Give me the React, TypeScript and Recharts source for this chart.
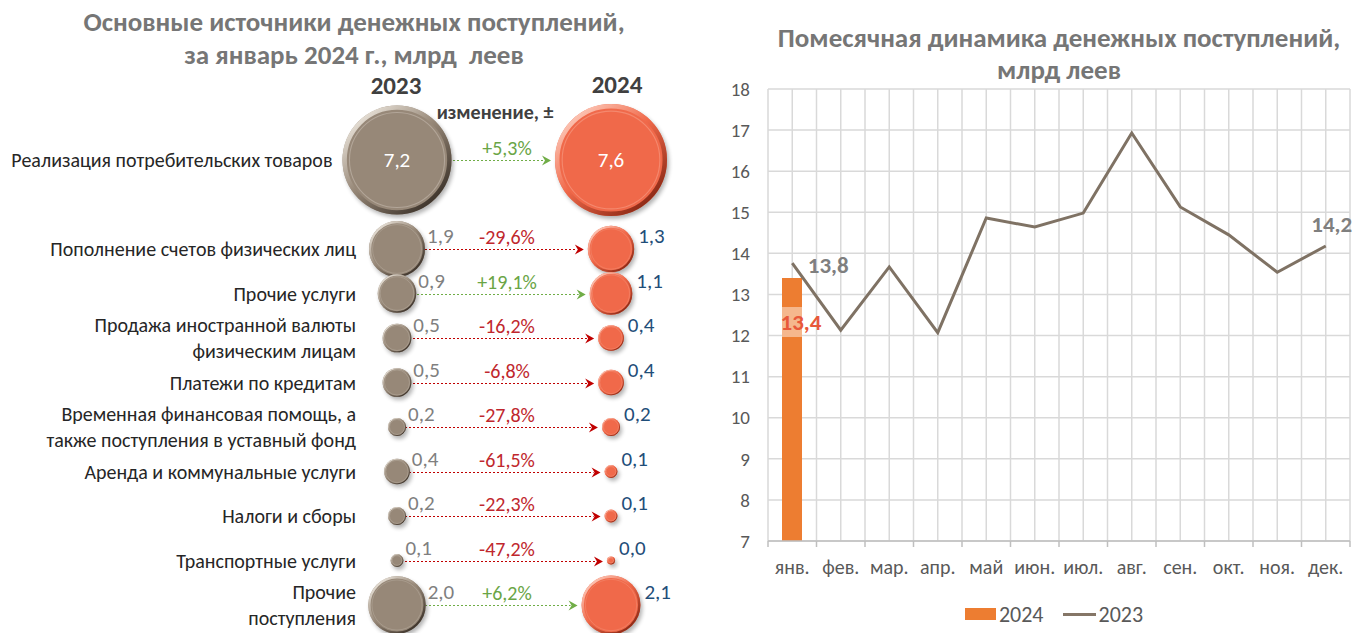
import {
  ScatterChart,
  Scatter,
  XAxis,
  YAxis,
  ZAxis,
  ComposedChart,
  Bar,
  Line,
  CartesianGrid,
  Legend,
  LabelList,
} from 'recharts'

const FONT = 'Carlito, Lato, "Open Sans", sans-serif'

// --- left panel: sources of cash inflow, January ---
const sources = [
  ['Реализация потребительских товаров'],
  ['Пополнение счетов физических лиц'],
  ['Прочие услуги'],
  ['Продажа иностранной валюты', 'физическим лицам'],
  ['Платежи по кредитам'],
  ['Временная финансовая помощь, а', 'также поступления в уставный фонд'],
  ['Аренда и коммунальные услуги'],
  ['Налоги и сборы'],
  ['Транспортные услуги'],
  ['Прочие', 'поступления'],
]
const jan2023 = [7.2, 1.9, 0.9, 0.5, 0.5, 0.2, 0.4, 0.2, 0.1, 2.0]
const jan2024 = [7.6, 1.3, 1.1, 0.4, 0.4, 0.2, 0.1, 0.1, 0.04, 2.1]
const changes = [5.3, -29.6, 19.1, -16.2, -6.8, -27.8, -61.5, -22.3, -47.2, 6.2]

// --- right panel: monthly dynamics ---
const months = ['янв.', 'фев.', 'мар.', 'апр.', 'май', 'июн.', 'июл.', 'авг.', 'сен.', 'окт.', 'ноя.', 'дек.']
const monthly2023 = [13.76, 12.13, 13.67, 12.07, 14.86, 14.64, 14.98, 16.93, 15.13, 14.45, 13.54, 14.18]
const monthly2024 = [13.4, null, null, null, null, null, null, null, null, null, null, null]
const yTicks = [7, 8, 9, 10, 11, 12, 13, 14, 15, 16, 17, 18]

const fmt = (v: number) => v.toFixed(1).replace('.', ',')
const fmtPct = (v: number) => (v > 0 ? '+' : '') + fmt(v) + '%'

// left chart geometry
const LEFT_W = 700
const CHART_H = 633
const PLOT_L = 397
const PLOT_R = 611
const COL_GAP = PLOT_R - PLOT_L
const Z_MAX = 7.6
const R_MAX = 56
const AREA_MAX = Math.PI * R_MAX * R_MAX
const radiusOf = (v: number) => R_MAX * Math.sqrt(v / Z_MAX)

const rowPos = sources.map((_, i) => (i === 0 ? 0 : i + 1))

const rows = sources.map((label, i) => ({
  label,
  y: rowPos[i],
  v23: jan2023[i],
  v24: jan2024[i],
  change: changes[i],
}))
const points2023 = rows.map((r) => ({ ...r, x: 0, z: r.v23 }))
const points2024 = rows.map((r) => ({ ...r, x: 1, z: r.v24 }))

const palette: Record<string, { base: string; light: string; dark: string; text: string }> = {
  '2023': { base: '#978878', light: '#E4DDD3', dark: '#3F352C', text: '#7F7F7F' },
  '2024': { base: '#F0694A', light: '#FCC3B2', dark: '#8E2A16', text: '#1F4E79' },
}

function Bubble(props: any) {
  const { cx, cy, size, payload, year } = props
  if (cx == null || cy == null) return null
  const r = Math.sqrt(Math.max(size, 0) / Math.PI)
  const c = palette[year]
  const bevel = Math.max(1, r * 0.08)
  const big = r > 40
  const value = year === '2023' ? payload.v23 : payload.v24
  return (
    <g>
      <defs>
        <linearGradient id={`bevel${year}`} x1="0.15" y1="0.1" x2="0.85" y2="0.9">
          <stop offset="0%" stopColor={c.light} />
          <stop offset="45%" stopColor={c.base} />
          <stop offset="100%" stopColor={c.dark} />
        </linearGradient>
        <filter id="bubbleShadow" x="-30%" y="-30%" width="160%" height="160%">
          <feGaussianBlur stdDeviation="2" />
        </filter>
      </defs>
      <circle cx={cx + 2} cy={cy + 3} r={r} fill="#000" opacity={0.3} filter="url(#bubbleShadow)" />
      <circle cx={cx} cy={cy} r={r} fill={c.base} />
      <circle
        cx={cx}
        cy={cy}
        r={r - bevel / 2}
        fill="none"
        stroke={`url(#bevel${year})`}
        strokeWidth={bevel}
      />
      <circle cx={cx} cy={cy} r={r - bevel * 1.6} fill="none" stroke={c.light} strokeWidth={Math.max(0.6, r * 0.02)} opacity={0.35} />
      {big ? (
        <text x={cx} y={cy} textAnchor="middle" dominantBaseline="central" fill="#fff" fontSize={21}>
          {fmt(value)}
        </text>
      ) : (
        <text x={cx + r + (year === '2023' ? 2 : 4)} y={cy - 13} dominantBaseline="central" fill={c.text} fontSize={21}>
          {fmt(value)}
        </text>
      )}
    </g>
  )
}

function ChangeArrow(props: any) {
  const { cx, cy, payload } = props
  if (cx == null || cy == null) return null
  const up = payload.change > 0
  const color = up ? '#70AD47' : '#C00000'
  const textColor = up ? '#6AA546' : '#C0272D'
  const tip = cx + COL_GAP - radiusOf(payload.v24) - 4
  const ly = Math.round(cy) + 0.5
  return (
    <g>
      <line x1={cx} y1={ly} x2={tip - 7} y2={ly} stroke={color} strokeWidth={1.2} strokeDasharray="2 2" />
      <path d={`M${tip - 9},${ly - 5} L${tip},${ly} L${tip - 9},${ly + 5} L${tip - 6},${ly} Z`} fill={color} />
      <text
        x={cx + COL_GAP / 2 + 3}
        y={cy - 12}
        textAnchor="middle"
        dominantBaseline="central"
        fill={textColor}
        fontSize={20}
      >
        {fmtPct(payload.change)}
      </text>
    </g>
  )
}

function RowTick(props: any) {
  const { x, y, payload } = props
  const i = rowPos.indexOf(payload.value)
  if (i < 0) return null
  const lines = sources[i]
  const tx = Math.min(x - 41, x - radiusOf(jan2023[i]) - 10)
  const lh = 26
  return (
    <text x={tx} y={y} textAnchor="end" fill="#262626" fontSize={20}>
      {lines.map((t, k) => (
        <tspan key={k} x={tx} y={y + (k - (lines.length - 1) / 2) * lh} dy="0.35em">
          {t}
        </tspan>
      ))}
    </text>
  )
}

function SourcesChart() {
  return (
    <ScatterChart
      width={LEFT_W}
      height={CHART_H}
      margin={{ top: 160, right: LEFT_W - PLOT_R, bottom: CHART_H - 605, left: 0 }}
    >
      <XAxis type="number" dataKey="x" domain={[0, 1]} hide />
      <YAxis
        type="number"
        dataKey="y"
        domain={[0, 10]}
        reversed
        ticks={rowPos}
        interval={0}
        width={PLOT_L}
        axisLine={false}
        tickLine={false}
        tickSize={0}
        tickMargin={0}
        tick={<RowTick />}
      />
      <ZAxis type="number" dataKey="z" domain={[0, Z_MAX]} range={[0, AREA_MAX]} />
      <Scatter data={points2023} shape={<ChangeArrow />} isAnimationActive={false} />
      <Scatter data={points2023} shape={<Bubble year="2023" />} isAnimationActive={false} />
      <Scatter data={points2024} shape={<Bubble year="2024" />} isAnimationActive={false} />
    </ScatterChart>
  )
}

// right chart geometry
const RIGHT_W = 653
const Y_AXIS_W = 68
const RIGHT_MARGIN = 3
const BAND = (RIGHT_W - Y_AXIS_W - RIGHT_MARGIN) / months.length

const monthly = months.map((m, i) => ({ month: m, v2023: monthly2023[i], v2024: monthly2024[i] }))

function MonthTick(props: any) {
  const { x, y, payload, index } = props
  const left = x - BAND / 2
  return (
    <g>
      <line x1={left} y1={y} x2={left} y2={y + 6} stroke="#BFBFBF" strokeWidth={1.5} />
      {index === months.length - 1 && (
        <line x1={x + BAND / 2} y1={y} x2={x + BAND / 2} y2={y + 6} stroke="#BFBFBF" strokeWidth={1.5} />
      )}
      <text x={x} y={y + 26} textAnchor="middle" dominantBaseline="central" fill="#595959" fontSize={20}>
        {payload.value}
      </text>
    </g>
  )
}

function BarValue(props: any) {
  const { x, y, width, value } = props
  if (value == null) return null
  return (
    <g>
      <rect x={x} y={y + 29} width={width} height={30} fill="#fff" opacity={0.45} />
      <text
        x={x + width / 2 + 9}
        y={y + 44}
        textAnchor="middle"
        dominantBaseline="central"
        fill="#E8583A"
        fontSize={23}
        fontWeight="bold"
      >
        {fmt(value)}
      </text>
    </g>
  )
}

function LineValue(props: any) {
  const { x, y, value, index } = props
  if (index !== 0 && index !== months.length - 1) return null
  const first = index === 0
  return (
    <text
      x={first ? x + 36 : x + 6}
      y={first ? y + 2 : y - 22}
      textAnchor="middle"
      dominantBaseline="central"
      fill="#7F7F7F"
      fontSize={23}
      fontWeight="bold"
    >
      {fmt(value)}
    </text>
  )
}

function MonthlyLegend() {
  return (
    <div
      style={{
        height: 24,
        display: 'flex',
        justifyContent: 'center',
        alignItems: 'center',
        fontFamily: FONT,
        fontSize: 22,
        color: '#595959',
        paddingLeft: 58,
      }}
    >
      <span style={{ width: 31, height: 12, background: '#ED7D31', marginRight: 3 }} />
      <span>2024</span>
      <span style={{ width: 33, height: 3, background: '#857667', marginLeft: 19, marginRight: 3 }} />
      <span>2023</span>
    </div>
  )
}

function MonthlyChart() {
  return (
    <ComposedChart
      width={RIGHT_W}
      height={CHART_H}
      data={monthly}
      margin={{ top: 89, right: RIGHT_MARGIN, bottom: 7, left: 0 }}
    >
      <CartesianGrid
        stroke="#D9D9D9"
        strokeWidth={1.5}
        verticalCoordinatesGenerator={({ offset }: any) =>
          Array.from({ length: months.length * 2 + 1 }, (_, k) => offset.left + (k * offset.width) / (months.length * 2))
        }
      />
      <XAxis
        dataKey="month"
        height={61}
        interval={0}
        axisLine={{ stroke: '#BFBFBF', strokeWidth: 1.5 }}
        tickLine={false}
        tickSize={0}
        tickMargin={0}
        tick={<MonthTick />}
      />
      <YAxis
        domain={[7, 18]}
        ticks={yTicks}
        interval={0}
        width={Y_AXIS_W}
        axisLine={false}
        tickLine={false}
        tickSize={0}
        tickMargin={18}
        tick={{ fill: '#595959', fontSize: 19 }}
      />
      <Legend verticalAlign="bottom" content={<MonthlyLegend />} />
      <Bar dataKey="v2024" fill="#ED7D31" barSize={20} isAnimationActive={false}>
        <LabelList dataKey="v2024" content={<BarValue />} />
      </Bar>
      <Line
        dataKey="v2023"
        stroke="#7F7264"
        strokeWidth={3}
        dot={false}
        label={<LineValue />}
        isAnimationActive={false}
      />
    </ComposedChart>
  )
}

const titleStyle = {
  position: 'absolute' as const,
  textAlign: 'center' as const,
  fontWeight: 'bold',
  color: '#767676',
  whiteSpace: 'nowrap' as const,
}

export default function App() {
  return (
    <div
      style={{
        position: 'absolute',
        left: 0,
        top: 0,
        width: 1353,
        height: 633,
        background: '#fff',
        fontFamily: FONT,
        overflow: 'hidden',
      }}
    >
      <div style={{ ...titleStyle, left: 0, width: 708, top: 5, fontSize: 27, lineHeight: '33px' }}>
        Основные источники денежных поступлений,
        <br />
        за январь 2024 г., млрд&nbsp; леев
      </div>
      <div style={{ ...titleStyle, left: 346, width: 100, top: 70, fontSize: 25, color: '#404040' }}>2023</div>
      <div style={{ ...titleStyle, left: 567, width: 100, top: 69, fontSize: 25, color: '#404040' }}>2024</div>
      <div style={{ ...titleStyle, left: 420, width: 150, top: 100, fontSize: 20, color: '#404040' }}>изменение, ±</div>
      <div style={{ position: 'absolute', left: 0, top: 0 }}>
        <SourcesChart />
      </div>
      <div style={{ ...titleStyle, left: 768, width: 582, top: 22, fontSize: 27, lineHeight: '32px' }}>
        Помесячная динамика денежных поступлений,
        <br />
        млрд леев
      </div>
      <div style={{ position: 'absolute', left: 700, top: 0 }}>
        <MonthlyChart />
      </div>
    </div>
  )
}
